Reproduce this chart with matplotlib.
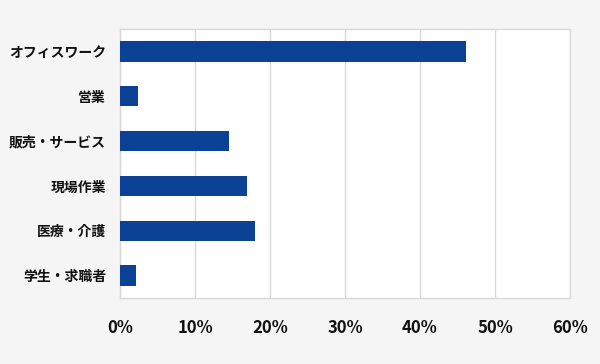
import matplotlib
matplotlib.use('Agg')
import matplotlib.pyplot as plt

plt.rcParams['font.family'] = ['Noto Sans CJK JP', 'DejaVu Sans']

categories = ['オフィスワーク', '営業', '販売・サービス', '現場作業', '医療・介護', '学生・求職者']
values = [46.1, 2.4, 14.5, 16.9, 18.0, 2.1]
xticks = [0, 10, 20, 30, 40, 50, 60]

bar_color = '#0b4295'
bg_color = '#f5f5f5'
grid_color = '#d9d9d9'

fig = plt.figure(figsize=(6, 3.64), dpi=100, facecolor=bg_color)
ax = fig.add_axes([120 / 600, 1 - 298 / 364, 450 / 600, 269 / 364])
ax.set_facecolor('white')

ypos = list(range(len(categories)))
ax.barh(ypos, values, height=0.45, color=bar_color, zorder=3)
ax.set_ylim(len(categories) - 0.5, -0.5)
ax.set_xlim(0, 60)

ax.set_xticks(xticks)
ax.set_xticklabels([f'{t}%' for t in xticks], fontsize=12, fontweight='bold')
ax.set_yticks(ypos)
ax.set_yticklabels(categories, fontsize=10, fontweight='bold')
ax.tick_params(axis='x', length=0, pad=15, colors='#111111')
ax.tick_params(axis='y', length=0, pad=10, colors='#111111')

ax.grid(axis='x', color=grid_color, linewidth=1, zorder=0)
for side in ax.spines.values():
    side.set_color(grid_color)
    side.set_linewidth(1)

fig.savefig('out.png', dpi=100, facecolor=bg_color)
